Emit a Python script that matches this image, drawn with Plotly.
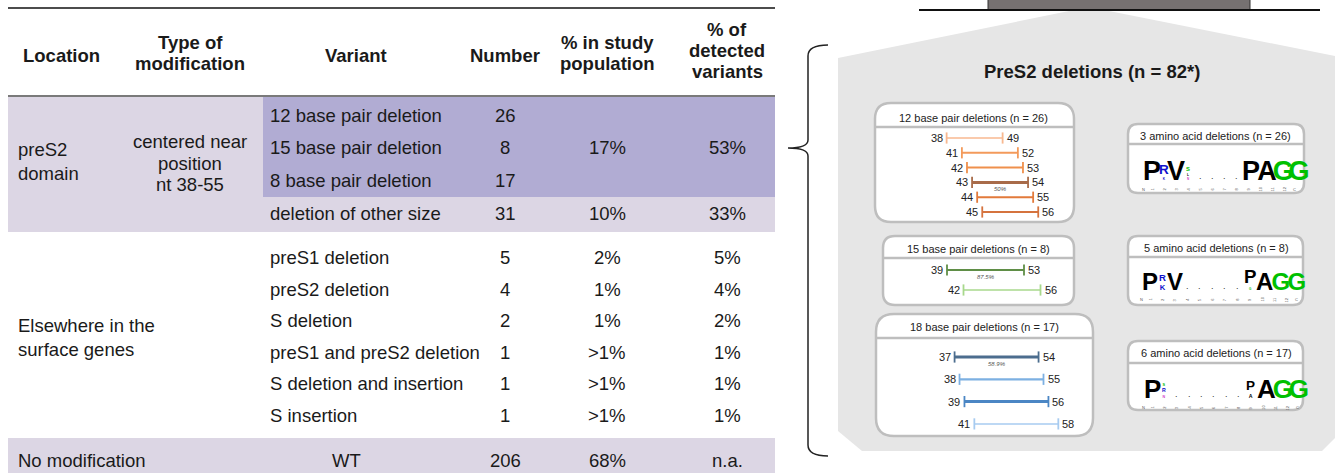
import plotly.graph_objects as go

# ------------------------------------------------------------------ data
header_labels = ["Location", "Type of<br>modification", "Variant", "Number",
                 "% in study<br>population", "% of<br>detected<br>variants"]
location_labels = ["preS2<br>domain", "Elsewhere in the<br>surface genes", "No modification"]
modification_label = "centered near<br>position<br>nt 38-55"

pres2_variants = ["12 base pair deletion", "15 base pair deletion",
                  "8 base pair deletion", "deletion of other size"]
pres2_numbers = [26, 8, 17, 31]
pres2_pct_study = ["17%", "10%"]        # first value spans the three main deletions
pres2_pct_detected = ["53%", "33%"]

other_variants = ["preS1 deletion", "preS2 deletion", "S deletion",
                  "preS1 and preS2 deletion", "S deletion and insertion", "S insertion"]
other_numbers = [5, 4, 2, 1, 1, 1]
other_pct_study = ["2%", "1%", "1%", ">1%", ">1%", ">1%"]
other_pct_detected = ["5%", "4%", "2%", "1%", "1%", "1%"]

wt_variant, wt_number, wt_pct_study, wt_pct_detected = "WT", 206, "68%", "n.a."

overview_title = "PreS2 deletions (n = 82*)"

del_titles = ["12 base pair deletions (n = 26)", "15 base pair deletions (n = 8)",
              "18 base pair deletions (n = 17)"]
del12_start = [38, 41, 42, 43, 44, 45]
del12_end = [49, 52, 53, 54, 55, 56]
del15_start = [39, 42]
del15_end = [53, 56]
del18_start = [37, 38, 39, 41]
del18_end = [54, 55, 56, 58]
del_major_share = ["50%", "87.5%", "58.9%"]
del_major_row = [3, 0, 0]

logo_titles = ["3 amino acid deletions (n = 26)", "5 amino acid deletions (n = 8)",
               "6 amino acid deletions (n = 17)"]
# stacks listed bottom -> top, heights relative to the full column height
logo3_letters = [["P"], ["K", "R"], ["V"], ["N", "L", "S"], [], [], [], [], ["P"], ["A"], ["G"], ["G"]]
logo3_heights = [[1.0], [0.12, 0.5], [1.0], [0.08, 0.12, 0.22], [], [], [], [], [1.0], [1.0], [1.0], [1.0]]
logo5_letters = [["P"], ["K", "R"], ["V"], [], [], [], [], [], ["G", "P"], ["A"], ["G"], ["G"]]
logo5_heights = [[1.0], [0.32, 0.4], [1.0], [], [], [], [], [], [0.06, 0.78], [1.0], [1.0], [1.0]]
logo6_letters = [["P"], ["N", "R", "S"], [], [], [], [], [], [], ["A", "P"], ["A"], ["G"], ["G"]]
logo6_heights = [[1.0], [0.14, 0.2, 0.15], [], [], [], [], [], [], [0.2, 0.52], [1.0], [1.0], [1.0]]
logo_tick_labels = ["1", "2", "3", "4", "5", "6", "7", "8", "9", "10", "11", "12"]

# ------------------------------------------------------------------ styles
W, H = 1335, 473
FONT = "Liberation Sans, Arial, Helvetica, sans-serif"
LOGO_FONT = "Liberation Sans Narrow, Arial Narrow, Liberation Sans, Arial, sans-serif"
TXT = "#1a1a1a"
TS = 18.5                      # table font size
LIGHT_PURPLE = "#DCD6E4"
DARK_PURPLE = "#B1ACD3"
PANEL_GREY = "#E6E6E6"
BOX_LINE = "#BEBEBE"
aa_colors = {"P": "#000000", "V": "#000000", "A": "#000000", "L": "#000000",
             "R": "#1010CC", "K": "#1010CC", "S": "#00C000", "G": "#00C000", "N": "#D040C8"}
# approximate advance widths (em) of the narrow bold logo font
aa_adv = {"P": 0.547, "A": 0.591, "G": 0.638, "V": 0.547, "R": 0.591, "K": 0.591,
          "S": 0.547, "L": 0.501, "N": 0.591}
ASC, DESC = 0.905, 0.212

fig = go.Figure()
shapes, anns = [], []


def text(x, y, s, size=18, color=TXT, bold=False, italic=False, xanchor="center",
         yanchor="middle", xref="x", family=FONT, xshift=0, textangle=0, pad=1):
    if bold:
        s = f"<b>{s}</b>"
    if italic:
        s = f"<i>{s}</i>"
    anns.append(dict(x=x, y=y, xref=xref, yref="y", text=s, showarrow=False,
                     xanchor=xanchor, yanchor=yanchor, xshift=xshift, textangle=textangle,
                     borderpad=pad, font=dict(size=size, color=color, family=family)))


def multiline(x, yc, s, spacing, **kw):
    parts = s.split("<br>")
    n = len(parts)
    for i, p in enumerate(parts):
        text(x, yc + (i - (n - 1) / 2) * spacing, p, **kw)


def rect(x0, y0, x1, y1, fill, line=None, lw=0):
    shapes.append(dict(type="rect", xref="x", yref="y", x0=x0, y0=y0, x1=x1, y1=y1,
                       fillcolor=fill, line=dict(color=line or fill, width=lw), layer="below"))


def hline(x0, x1, y, color, width):
    shapes.append(dict(type="line", xref="x", yref="y", x0=x0, x1=x1, y0=y, y1=y,
                       line=dict(color=color, width=width), layer="below"))


def path(d, fill=None, line=None, lw=0):
    shapes.append(dict(type="path", xref="x", yref="y", path=d,
                       fillcolor=fill if fill else "rgba(0,0,0,0)",
                       line=dict(color=line if line else "rgba(0,0,0,0)", width=lw), layer="below"))


def rrect(x0, y0, x1, y1, r):
    return (f"M {x0 + r},{y0} L {x1 - r},{y0} Q {x1},{y0} {x1},{y0 + r} L {x1},{y1 - r} "
            f"Q {x1},{y1} {x1 - r},{y1} L {x0 + r},{y1} Q {x0},{y1} {x0},{y1 - r} "
            f"L {x0},{y0 + r} Q {x0},{y0} {x0 + r},{y0} Z")


# ------------------------------------------------------------------ table
TL, TR = 8, 775
rect(TL, 96, TR, 232, LIGHT_PURPLE)
rect(263, 96, TR, 197, DARK_PURPLE)
rect(TL, 438, TR, H + 2, LIGHT_PURPLE)
hline(TL, TR, 8, "#111111", 1.5)
hline(TL, TR, 96, "#7a7a7a", 2)

col_x = [61, 190, 356, 505, 607, 727]
head_y = [55, 53, 55, 55, 52.5, 50.5]
for lab, x, y in zip(header_labels, col_x, head_y):
    multiline(x, y, lab, 21, size=TS, bold=True)

LOC_X, VAR_X = 16, 268
NUM_X, STUDY_X, DET_X = col_x[3], col_x[4], col_x[5]

sec1_rows = [115 + i * 32.7 for i in range(len(pres2_variants))]
for lab, n, y in zip(pres2_variants, pres2_numbers, sec1_rows):
    text(VAR_X, y, lab, size=TS, xanchor="left")
    text(NUM_X, y, str(n), size=TS)
text(STUDY_X, sec1_rows[1], pres2_pct_study[0], size=TS)
text(DET_X, sec1_rows[1], pres2_pct_detected[0], size=TS)
text(STUDY_X, sec1_rows[3], pres2_pct_study[1], size=TS)
text(DET_X, sec1_rows[3], pres2_pct_detected[1], size=TS)
multiline(LOC_X, 161.5, location_labels[0], 23.5, size=TS, xanchor="left")
multiline(col_x[1], 163, modification_label, 21.5, size=TS)

sec2_rows = [257.5 + i * 31.6 for i in range(len(other_variants))]
for lab, n, ps, pd, y in zip(other_variants, other_numbers, other_pct_study,
                             other_pct_detected, sec2_rows):
    text(VAR_X, y, lab, size=TS, xanchor="left")
    text(NUM_X, y, str(n), size=TS)
    text(STUDY_X, y, ps, size=TS)
    text(DET_X, y, pd, size=TS)
multiline(LOC_X, 337.5, location_labels[1], 24, size=TS, xanchor="left")

WT_Y = 460
text(LOC_X, WT_Y, location_labels[2], size=TS, xanchor="left")
text(346, WT_Y, wt_variant, size=TS)
text(NUM_X, WT_Y, str(wt_number), size=TS)
text(STUDY_X, WT_Y, wt_pct_study, size=TS)
text(DET_X, WT_Y, wt_pct_detected, size=TS)

# ------------------------------------------------------------------ right panel
path("M 838,58 L 1074,10 L 1104,10 L 1335,56 L 1335,438 L 1322,451 L 862,451 L 838,431 Z",
     fill=PANEL_GREY)
rect(988, -2, 1250, 10, "#767171", line="#333333", lw=1)
hline(919, 1320, 10, "#111111", 2)
path("M 828,45 Q 808,45 808,56 L 808,140 Q 808,148 788,148 Q 808,148 808,156 "
     "L 808,445 Q 808,456 828,456", line="#222222", lw=1.5)
text(1092, 71, overview_title, size=18.5, bold=True)

# deletion map boxes
del_boxes = [
    dict(box=(875, 103, 1074, 222), r=16, sep=127, tx=973, ty=118, row0=138, dy=14.8,
         px0=753.2, ppu=5.09, start=del12_start, end=del12_end,
         colors=["#F8B890", "#F39A5B", "#EF904C", "#A86B49", "#E27A3B", "#D5733E"],
         widths=[1.5, 2, 2, 3, 2, 2]),
    dict(box=(883, 236, 1074, 305), r=12, sep=258, tx=978, ty=248.5, row0=270, dy=20,
         px0=732.5, ppu=5.5, start=del15_start, end=del15_end,
         colors=["#5F8E46", "#A8D88C"], widths=[2, 1.5]),
    dict(box=(876, 314, 1093, 436), r=18, sep=338, tx=984, ty=327, row0=357, dy=22.3,
         px0=771.8, ppu=4.94, start=del18_start, end=del18_end,
         colors=["#4C6D8E", "#7DB0E2", "#4B86C4", "#A7CBF0"], widths=[3, 2.2, 3, 1.5]),
]

for k, (b, title, share, major) in enumerate(zip(del_boxes, del_titles,
                                                 del_major_share, del_major_row), start=2):
    x0, y0, x1, y1 = b["box"]
    path(rrect(x0, y0, x1, y1, b["r"]), fill="white", line=BOX_LINE, lw=2.5)
    hline(x0, x1, b["sep"], BOX_LINE, 2.5)
    text(b["tx"], b["ty"], title, size=11, color="#222222")
    axname = f"xaxis{k}"
    fig.update_layout(**{axname: dict(range=[-b["px0"] / b["ppu"], (W - b["px0"]) / b["ppu"]],
                                      overlaying="x", anchor="y", visible=False,
                                      fixedrange=True, domain=[0, 1])})
    xref = f"x{k}"
    for i, (s, e) in enumerate(zip(b["start"], b["end"])):
        y = b["row0"] + i * b["dy"]
        c, w = b["colors"][i], b["widths"][i]
        fig.add_trace(go.Scatter(x=[s, e], y=[y, y], xaxis=xref, yaxis="y",
                                 mode="lines+markers", line=dict(color=c, width=w),
                                 marker=dict(symbol="line-ns-open", size=8, color=c,
                                             line=dict(color=c, width=1.8)),
                                 hoverinfo="skip", showlegend=False))
        text(s, y, str(s), size=11, color="#222222", xanchor="right", xref=xref, xshift=-2)
        text(e, y, str(e), size=11, color="#222222", xanchor="left", xref=xref, xshift=2)
    ym = b["row0"] + major * b["dy"] + 6.5
    xm = (b["start"][major] + b["end"][major]) / 2
    text(xm, ym, share, size=6, color="#555555", italic=True, xref=xref)

# logo boxes
logo_boxes = [
    dict(box=(1128, 124, 1304, 193), sep=144, tx=1215, ty=135.5, x0=1152, step=12.0,
         base=181, size=27, letters=logo3_letters, heights=logo3_heights),
    dict(box=(1128, 236, 1303, 305), sep=257, tx=1216, ty=248, x0=1150, step=12.45,
         base=291, size=24, letters=logo5_letters, heights=logo5_heights),
    dict(box=(1128, 341, 1303, 410), sep=363, tx=1216, ty=353, x0=1152, step=12.36,
         base=399, size=26, letters=logo6_letters, heights=logo6_heights),
]


def is_full(col):
    lets, hs = col
    return len(lets) == 1 and hs[0] >= 1.0


for b, title in zip(logo_boxes, logo_titles):
    x0, y0, x1, y1 = b["box"]
    path(rrect(x0, y0, x1, y1, 10), fill="white", line=BOX_LINE, lw=2.5)
    hline(x0, x1, b["sep"], BOX_LINE, 2.5)
    text(b["tx"], b["ty"], title, size=11, color="#222222")
    cols = list(zip(b["letters"], b["heights"]))
    step, fs_full = b["step"], b["size"]
    base = b["base"]
    j = 0
    while j < len(cols):
        cx = b["x0"] + j * step
        if is_full(cols[j]):
            k = j
            while k < len(cols) and is_full(cols[k]):
                k += 1
            if k - j >= 2:
                # a run of full-height letters drawn as one text, spaced one column apart
                pieces = []
                for m in range(j, k):
                    L = cols[m][0][0]
                    ls = step - aa_adv[L] * fs_full
                    pieces.append(f"<span style='color:{aa_colors[L]};letter-spacing:{ls:.2f}px'>{L}</span>")
                L0 = cols[j][0][0]
                text(cx - aa_adv[L0] * fs_full / 2, base + DESC * fs_full, "".join(pieces),
                     size=fs_full, bold=True, xanchor="left", yanchor="bottom",
                     family=LOGO_FONT, pad=0)
                j = k
                continue
        lets, hs = cols[j]
        if not lets:
            text(cx, base + 1, ".", size=9, color="#333333", yanchor="bottom", pad=0)
        elif len(lets) == 1:
            fs = max(fs_full * hs[0], 3)
            text(cx, base + DESC * fs, lets[0], size=fs, color=aa_colors[lets[0]], bold=True,
                 yanchor="bottom", family=LOGO_FONT, pad=0)
        else:
            # a stacked column drawn as one multi-line text (top letter first)
            sizes = [max(fs_full * h, 3) for h in hs]
            gaps = [ASC * sizes[i] + DESC * sizes[i + 1] + 0.4 for i in range(len(sizes) - 1)]
            line_fs = max(gaps) / 1.3
            rows = [f"<b><span style='font-size:{sizes[i]:.1f}px;color:{aa_colors[lets[i]]}'>"
                    f"{lets[i]}</span></b>" for i in reversed(range(len(lets)))]
            text(cx, base + DESC * sizes[0], "<br>".join(rows), size=line_fs,
                 yanchor="bottom", family=LOGO_FONT, pad=0)
        j += 1
    for j in range(len(cols)):
        cx = b["x0"] + j * step
        text(cx, base + 8.5, logo_tick_labels[j], size=4, color="#555555",
             textangle=-90, pad=0)
    text(b["x0"] - 9, base + 8.5, "N", size=4, color="#555555", pad=0)
    text(b["x0"] + 11 * step + 10, base + 8.5, "C", size=4, color="#555555", pad=0)

fig.update_layout(width=W, height=H, margin=dict(l=0, r=0, t=0, b=0),
                  paper_bgcolor="white", plot_bgcolor="white", showlegend=False,
                  xaxis=dict(range=[0, W], visible=False, fixedrange=True),
                  yaxis=dict(range=[H, 0], visible=False, fixedrange=True),
                  shapes=shapes, annotations=anns)

fig.write_html("out.html", config={"displayModeBar": False, "staticPlot": True},
               post_script="document.body.style.margin='0';document.body.style.overflow='hidden';")
